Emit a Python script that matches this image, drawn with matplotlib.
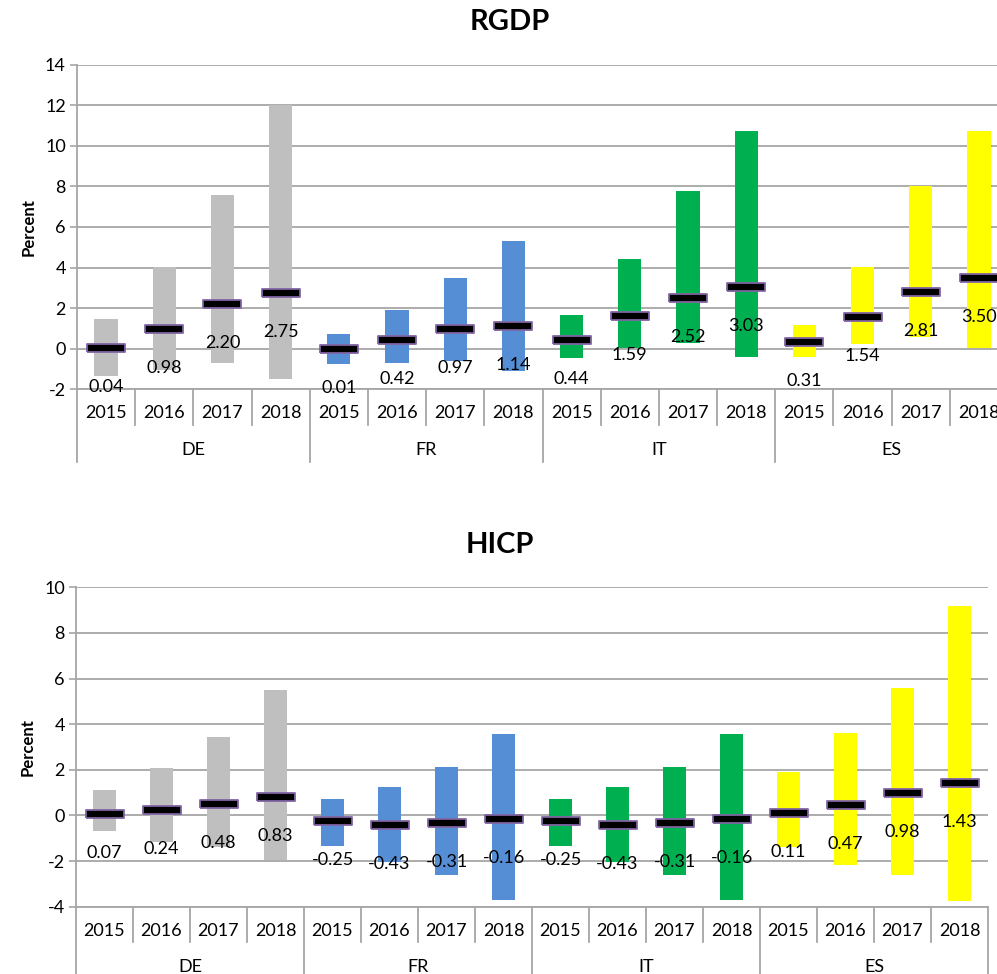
import matplotlib
matplotlib.use("Agg")
import matplotlib.pyplot as plt
import matplotlib.transforms as mtransforms
import numpy as np

plt.rcParams['font.family'] = ['Lato', 'DejaVu Sans']
plt.rcParams['axes.unicode_minus'] = False

countries = ["DE", "FR", "IT", "ES"]
years = ["2015", "2016", "2017", "2018"]
colors = ["#BFBFBF", "#558ED5", "#00B050", "#FFFF00"]

# RGDP: low, high, median per country-year
rgdp_low = [-1.33, -1.05, -0.72, -1.51,
            -0.74, -0.69, -0.59, -1.08,
            -0.44, 0.05, 0.30, -0.39,
            -0.39, 0.25, 0.59, 0.05]
rgdp_high = [1.48, 4.03, 7.57, 12.0,
             0.71, 1.91, 3.48, 5.31,
             1.66, 4.42, 7.79, 10.73,
             1.17, 4.04, 8.04, 10.73]
rgdp_med = [0.04, 0.98, 2.20, 2.75,
            0.01, 0.42, 0.97, 1.14,
            0.44, 1.59, 2.52, 3.03,
            0.31, 1.54, 2.81, 3.50]

# HICP
hicp_low = [-0.68, -1.15, -1.37, -1.95,
            -1.32, -2.05, -2.60, -3.69,
            -1.32, -2.05, -2.60, -3.69,
            -1.37, -2.16, -2.62, -3.75]
hicp_high = [1.12, 2.08, 3.46, 5.50,
             0.72, 1.25, 2.13, 3.57,
             0.72, 1.25, 2.13, 3.57,
             1.91, 3.62, 5.59, 9.20]
hicp_med = [0.07, 0.24, 0.48, 0.83,
            -0.25, -0.43, -0.31, -0.16,
            -0.25, -0.43, -0.31, -0.16,
            0.11, 0.47, 0.98, 1.43]

W, H = 997, 974
fig = plt.figure(figsize=(W / 100, H / 100), dpi=100)

GRID = "#A6A6A6"
MARK_EDGE = "#8064A2"
marker_verts = [(-1, -0.19), (1, -0.19), (1, 0.19), (-1, 0.19), (-1, -0.19)]
FS = 13


def px_box(left, top, right, bottom):
    return [left / W, (H - bottom) / H, (right - left) / W, (bottom - top) / H]


def draw_panel(rect, low, high, med, ylim, yticks, title, title_xy,
               year_px, sep_short_px, country_px, sep_long_px):
    ax = fig.add_axes(px_box(*rect))
    ax_h = rect[3] - rect[1]
    n = len(med)
    x = np.arange(n)
    cols = [colors[i // 4] for i in range(n)]
    low = np.array(low)
    high = np.array(high)
    ax.bar(x, high - low, bottom=low, width=0.4, color=cols, zorder=2)
    ax.plot(x, med, ls='none', marker=marker_verts, ms=27.5,
            mfc='black', mec=MARK_EDGE, mew=1.3, zorder=4)
    for xi, v in zip(x, med):
        ax.annotate(f"{v:.2f}", (xi, v), xytext=(0, -39),
                    textcoords='offset pixels', ha='center', va='center',
                    fontsize=FS, color='black', zorder=5)
    ax.set_xlim(-0.5, n - 0.5)
    ax.set_ylim(*ylim)
    ax.set_yticks(yticks)
    ax.set_yticklabels([str(t) for t in yticks], fontsize=FS)
    ax.yaxis.grid(True, color=GRID, lw=1.3, zorder=0)
    ax.set_axisbelow(True)
    for s in ['top', 'right']:
        ax.spines[s].set_visible(False)
    for s in ['left', 'bottom']:
        ax.spines[s].set_color(GRID)
        ax.spines[s].set_linewidth(1.3)
    ax.tick_params(axis='y', length=5, width=1.2, color=GRID, pad=3)
    ax.set_xticks([])
    ax.set_ylabel("Percent", fontsize=12, fontweight='bold', labelpad=6)

    trans = mtransforms.blended_transform_factory(ax.transData, ax.transAxes)
    f = lambda p: -p / ax_h
    for i in range(n):
        ax.text(i, f(year_px), years[i % 4], transform=trans, ha='center',
                va='center', fontsize=FS, clip_on=False)
    for c, name in enumerate(countries):
        ax.text(c * 4 + 1.5, f(country_px), name, transform=trans,
                ha='center', va='center', fontsize=FS, clip_on=False)
    for b in range(n + 1):
        xb = b - 0.5
        bottom = sep_long_px if b % 4 == 0 else sep_short_px
        ax.plot([xb, xb], [0, f(bottom)], transform=trans, color=GRID,
                lw=1.3, clip_on=False, zorder=1)
    fig.text(title_xy[0] / W, 1 - title_xy[1] / H, title, ha='center',
             va='center', fontsize=21, fontweight='bold')
    return ax


draw_panel((77, 64.7, 1008, 389.3), rgdp_low, rgdp_high, rgdp_med,
           (-2, 14), list(range(-2, 15, 2)), "RGDP", (510, 22),
           24, 36, 61, 73)
draw_panel((76, 587.3, 988, 906.7), hicp_low, hicp_high, hicp_med,
           (-4, 10), list(range(-4, 11, 2)), "HICP", (500, 545),
           24, 35, 60, 75)

fig.savefig("out.png", dpi=100)
